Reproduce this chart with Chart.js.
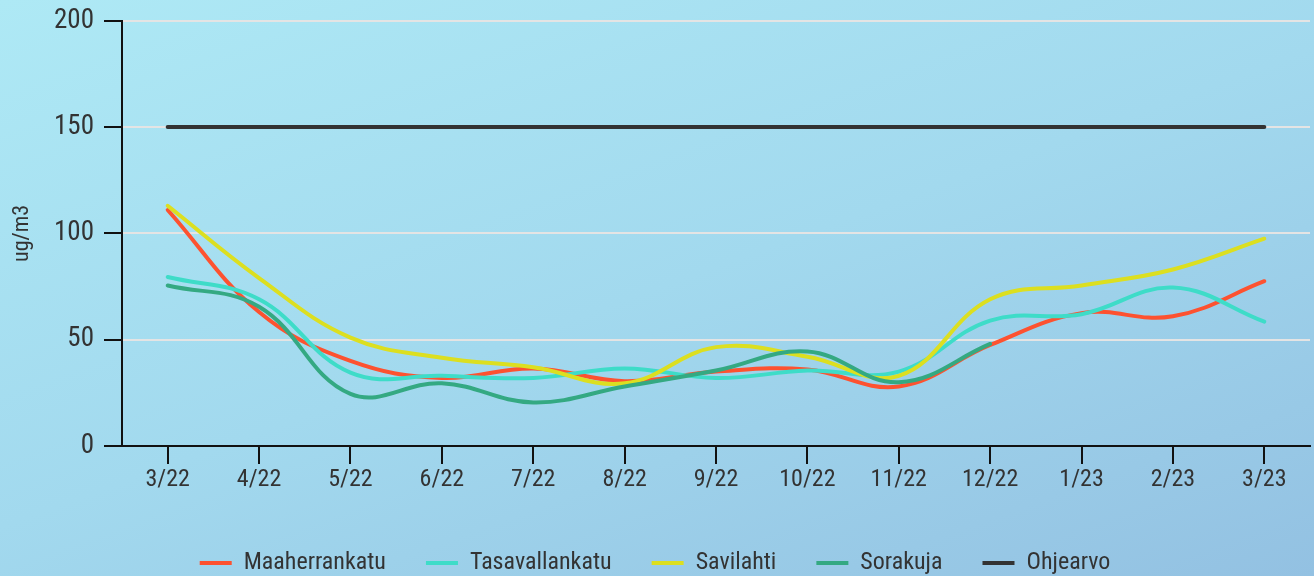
<!DOCTYPE html>
<html>
<head>
<meta charset="utf-8">
<script src="https://cdn.jsdelivr.net/npm/chart.js@4/dist/chart.umd.min.js"></script>
<style>
  html, body { margin: 0; padding: 0; }
  body {
    width: 1314px; height: 576px; overflow: hidden;
    background: linear-gradient(160deg, #aee9f5 0%, #a2d9ee 50%, #93c1e2 100%);
  }
  #wrap { position: relative; width: 1314px; height: 585px; }
</style>
</head>
<body>
<div id="wrap"><canvas id="airChart"></canvas></div>
<script>
const months = ['3/22', '4/22', '5/22', '6/22', '7/22', '8/22', '9/22', '10/22', '11/22', '12/22', '1/23', '2/23', '3/23'];
const maaherrankatu = [111, 63, 40, 32, 36.5, 30.5, 35, 36, 28, 47.5, 62.5, 61, 77.5];
const tasavallankatu = [79.5, 69, 34.5, 33, 32, 36.5, 32, 35.5, 35, 59, 62, 74.5, 58.5];
const savilahti = [113, 79, 51, 41.5, 37, 29.5, 46.5, 42, 33, 69, 75.5, 83, 97.5];
const sorakuja = [75.5, 65.5, 24.5, 29.5, 20.5, 28, 35.5, 44.5, 30, 48, null, null, null];
const ohjearvo = [150, 150, 150, 150, 150, 150, 150, 150, 150, 150, 150, 150, 150];
const yTicks = [0, 50, 100, 150, 200];

const fontFam = '"Roboto Condensed", "Liberation Sans Narrow", "DejaVu Sans Condensed", Roboto, sans-serif';
Chart.defaults.font.family = fontFam;
Chart.defaults.color = '#333333';

function series(label, data, color, order) {
  return {
    label, data,
    borderColor: color,
    backgroundColor: color,
    borderWidth: 4,
    pointRadius: 0,
    pointHoverRadius: 0,
    tension: 0.4,
    borderCapStyle: 'round',
    fill: false,
    spanGaps: false,
    order
  };
}

const ctx = document.getElementById('airChart').getContext('2d');
const chart = new Chart(ctx, {
  type: 'line',
  data: {
    labels: months,
    datasets: [
      series('Maaherrankatu', maaherrankatu, '#fd5230', 5),
      series('Tasavallankatu', tasavallankatu, '#3edcc8', 4),
      series('Savilahti', savilahti, '#dcdf20', 3),
      series('Sorakuja', sorakuja, '#34a982', 2),
      Object.assign(series('Ohjearvo', ohjearvo, '#333333', 1), { tension: 0 })
    ]
  },
  options: {
    responsive: true,
    maintainAspectRatio: false,
    animation: false,
    layout: { padding: { top: 2, right: 4, left: 0, bottom: 0 } },
    scales: {
      x: {
        offset: true,
        grid: {
          offset: false,
          drawOnChartArea: false,
          tickColor: '#111111',
          tickLength: 18,
          lineWidth: 2
        },
        border: { color: '#111111', width: 2 },
        ticks: { font: { size: 24 }, padding: 2, maxRotation: 0 },
        afterFit(scale) { scale.height = 65; }
      },
      y: {
        min: 0,
        max: 200,
        afterBuildTicks(scale) { scale.ticks = yTicks.map(v => ({ value: v })); },
        grid: {
          color: '#e4e4e4',
          tickColor: '#111111',
          tickLength: 18,
          lineWidth: 2
        },
        border: { color: '#111111', width: 2 },
        ticks: { font: { size: 27, lineHeight: 0.8 }, padding: 10 },
        title: { display: true, text: 'ug/m3', font: { size: 22 }, padding: { top: 9, bottom: 0 } },
        afterFit(scale) { scale.width = 122; }
      }
    },
    plugins: {
      legend: {
        position: 'bottom',
        labels: {
          boxWidth: 32,
          boxHeight: 4,
          padding: 40,
          font: { size: 24 },
          color: '#333333',
          sort: (a, b) => a.datasetIndex - b.datasetIndex,
          generateLabels(c) {
            const items = Chart.defaults.plugins.legend.labels.generateLabels(c);
            items.forEach(it => { it.lineWidth = 0; it.fillStyle = it.strokeStyle; });
            return items;
          }
        }
      },
      tooltip: { enabled: false }
    }
  }
});
</script>
</body>
</html>
